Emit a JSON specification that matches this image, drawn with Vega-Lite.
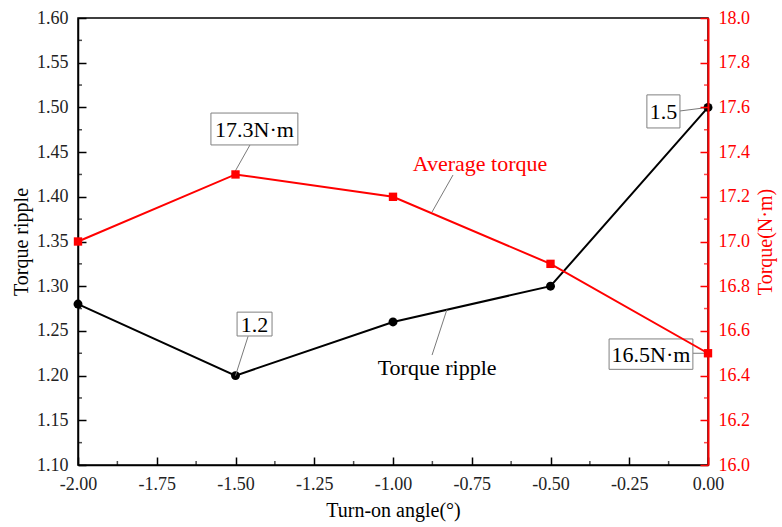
{
  "$schema": "https://vega.github.io/schema/vega-lite/v6.json",
  "width": 630,
  "height": 447,
  "autosize": {"type": "none"},
  "padding": {"left": 78, "top": 18, "right": 74, "bottom": 62},
  "background": "white",
  "config": {
    "view": {"stroke": "black", "strokeWidth": 1.5},
    "font": "Liberation Serif",
    "axis": {
      "labelFont": "Liberation Serif",
      "titleFont": "Liberation Serif",
      "labelFontSize": 18,
      "titleFontSize": 20,
      "titleFontWeight": "normal",
      "grid": false,
      "tickSize": -8,
      "tickWidth": 1.5,
      "domainWidth": 1.5,
      "labelFlush": false,
      "labelOverlap": false
    }
  },
  "datasets": {
    "main": [
      {"angle": -2.0, "ripple": 1.28, "torque": 17.0},
      {"angle": -1.5, "ripple": 1.20, "torque": 17.3},
      {"angle": -1.0, "ripple": 1.26, "torque": 17.2},
      {"angle": -0.5, "ripple": 1.30, "torque": 16.9},
      {"angle": 0.0, "ripple": 1.50, "torque": 16.5}
    ],
    "leaders": [
      {"x": -1.454, "y": 1.458, "x2": -1.502, "y2": 1.428},
      {"x": -1.46, "y": 1.244, "x2": -1.5, "y2": 1.2},
      {"x": -0.089, "y": 1.496, "x2": 0.0, "y2": 1.5},
      {"x": -0.048, "y": 1.225, "x2": 0.0, "y2": 1.225},
      {"x": -0.8095, "y": 1.4244, "x2": -0.876, "y2": 1.383},
      {"x": -0.876, "y": 1.223, "x2": -0.829, "y2": 1.2737}
    ],
    "boxes": [
      {"x": -1.578, "x2": -1.302, "y": 1.458, "y2": 1.4937, "cx": -1.44, "cy": 1.4759, "label": "17.3N·m"},
      {"x": -1.495, "x2": -1.384, "y": 1.2443, "y2": 1.271, "cx": -1.4395, "cy": 1.2577, "label": "1.2"},
      {"x": -0.194, "x2": -0.089, "y": 1.477, "y2": 1.514, "cx": -0.1415, "cy": 1.4955, "label": "1.5"},
      {"x": -0.314, "x2": -0.048, "y": 1.207, "y2": 1.241, "cx": -0.181, "cy": 1.224, "label": "16.5N·m"}
    ],
    "serieslabels": [
      {"x": -0.724, "y": 1.4367, "label": "Average torque", "series": "torque"},
      {"x": -0.86, "y": 1.2085, "label": "Torque ripple", "series": "ripple"}
    ],
    "xminor": [
      {"v": -1.875}, {"v": -1.625}, {"v": -1.375}, {"v": -1.125},
      {"v": -0.875}, {"v": -0.625}, {"v": -0.375}, {"v": -0.125}
    ],
    "yminor": [
      {"v": 1.125}, {"v": 1.175}, {"v": 1.225}, {"v": 1.275}, {"v": 1.325},
      {"v": 1.375}, {"v": 1.425}, {"v": 1.475}, {"v": 1.525}, {"v": 1.575}
    ],
    "rminor": [
      {"v": 16.1}, {"v": 16.3}, {"v": 16.5}, {"v": 16.7}, {"v": 16.9},
      {"v": 17.1}, {"v": 17.3}, {"v": 17.5}, {"v": 17.7}, {"v": 17.9}
    ]
  },
  "layer": [
    {
      "layer": [
        {
          "data": {"name": "main"},
          "mark": {"type": "line", "color": "black", "strokeWidth": 2},
          "encoding": {
            "x": {
              "field": "angle", "type": "quantitative",
              "scale": {"domain": [-2, 0], "nice": false, "zero": false},
              "axis": {
                "title": "Turn-on angle(°)",
                "values": [-2, -1.75, -1.5, -1.25, -1, -0.75, -0.5, -0.25, 0],
                "labelExpr": "replace(format(datum.value, '.2f'), '−', '-')",
                "labelColor": "#222222",
                "titleColor": "black",
                "domainColor": "black",
                "tickColor": "black",
                "labelPadding": 18,
                "titlePadding": 7
              }
            },
            "y": {
              "field": "ripple", "type": "quantitative",
              "scale": {"domain": [1.1, 1.6], "nice": false, "zero": false},
              "axis": {
                "title": "Torque ripple",
                "orient": "left",
                "values": [1.1, 1.15, 1.2, 1.25, 1.3, 1.35, 1.4, 1.45, 1.5, 1.55, 1.6],
                "format": ".2f",
                "labelColor": "#222222",
                "titleColor": "black",
                "domainColor": "black",
                "tickColor": "black",
                "labelPadding": 18,
                "titlePadding": 5
              }
            }
          }
        },
        {
          "data": {"name": "main"},
          "mark": {"type": "point", "shape": "circle", "filled": true, "color": "black", "size": 80, "opacity": 1},
          "encoding": {
            "x": {"field": "angle", "type": "quantitative"},
            "y": {"field": "ripple", "type": "quantitative"}
          }
        },
        {
          "data": {"name": "yminor"},
          "mark": {"type": "tick", "orient": "horizontal", "color": "black", "size": 4, "thickness": 1.5, "xOffset": 2},
          "encoding": {
            "x": {"datum": -2, "type": "quantitative"},
            "y": {"field": "v", "type": "quantitative"}
          }
        },
        {
          "data": {"name": "xminor"},
          "mark": {"type": "tick", "orient": "vertical", "color": "black", "size": 4, "thickness": 1.5, "yOffset": -2},
          "encoding": {
            "x": {"field": "v", "type": "quantitative"},
            "y": {"datum": 1.1, "type": "quantitative"}
          }
        },
        {
          "data": {"name": "leaders"},
          "mark": {"type": "rule", "color": "#7a7a7a", "strokeWidth": 1},
          "encoding": {
            "x": {"field": "x", "type": "quantitative"},
            "y": {"field": "y", "type": "quantitative"},
            "x2": {"field": "x2"},
            "y2": {"field": "y2"}
          }
        },
        {
          "data": {"name": "boxes"},
          "mark": {"type": "rect", "fill": "white", "stroke": "#808080", "strokeWidth": 1},
          "encoding": {
            "x": {"field": "x", "type": "quantitative"},
            "x2": {"field": "x2"},
            "y": {"field": "y", "type": "quantitative"},
            "y2": {"field": "y2"}
          }
        },
        {
          "data": {"name": "boxes"},
          "mark": {"type": "text", "font": "Liberation Serif", "fontSize": 22, "color": "black", "align": "center", "baseline": "middle", "dy": 1},
          "encoding": {
            "x": {"field": "cx", "type": "quantitative"},
            "y": {"field": "cy", "type": "quantitative"},
            "text": {"field": "label"}
          }
        },
        {
          "data": {"name": "serieslabels"},
          "mark": {"type": "text", "font": "Liberation Serif", "fontSize": 22, "align": "center", "baseline": "middle"},
          "encoding": {
            "x": {"field": "x", "type": "quantitative"},
            "y": {"field": "y", "type": "quantitative"},
            "text": {"field": "label"},
            "color": {
              "field": "series", "type": "nominal",
              "scale": {"domain": ["ripple", "torque"], "range": ["black", "#ff0000"]},
              "legend": null
            }
          }
        }
      ]
    },
    {
      "layer": [
        {
          "data": {"name": "main"},
          "mark": {"type": "line", "color": "#ff0000", "strokeWidth": 2},
          "encoding": {
            "x": {"field": "angle", "type": "quantitative"},
            "y": {
              "field": "torque", "type": "quantitative",
              "scale": {"domain": [16, 18], "nice": false, "zero": false},
              "axis": {
                "title": "Torque(N·m)",
                "orient": "right",
                "titleAngle": 270,
                "titleBaseline": "top",
                "values": [16, 16.2, 16.4, 16.6, 16.8, 17, 17.2, 17.4, 17.6, 17.8, 18],
                "format": ".1f",
                "labelColor": "#ff0000",
                "titleColor": "#ff0000",
                "domainColor": "#ff0000",
                "tickColor": "#ff0000",
                "domainWidth": 2,
                "labelPadding": 18,
                "titlePadding": 6,
                "zindex": 1
              }
            }
          }
        },
        {
          "data": {"name": "main"},
          "mark": {"type": "point", "shape": "square", "filled": true, "color": "#ff0000", "size": 70, "opacity": 1},
          "encoding": {
            "x": {"field": "angle", "type": "quantitative"},
            "y": {"field": "torque", "type": "quantitative"}
          }
        },
        {
          "data": {"name": "rminor"},
          "mark": {"type": "tick", "orient": "horizontal", "color": "#ff0000", "size": 4, "thickness": 1.5, "xOffset": -2},
          "encoding": {
            "x": {"datum": 0, "type": "quantitative"},
            "y": {"field": "v", "type": "quantitative"}
          }
        }
      ]
    }
  ],
  "resolve": {"scale": {"y": "independent"}}
}
